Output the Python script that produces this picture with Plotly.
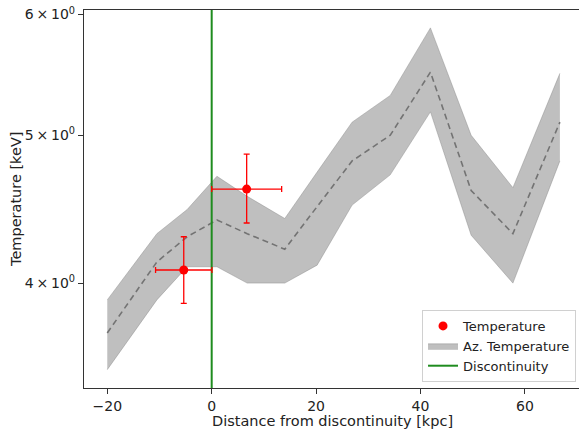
import plotly.graph_objects as go

# Azimuthal temperature profile (band + mean)
az_x = [-20.0, -10.5, -4.7, 1.0, 6.8, 14.0, 20.2, 26.9, 34.2, 41.9, 49.7, 57.7, 66.7]
az_mean = [3.71, 4.13, 4.29, 4.40, 4.31, 4.21, 4.49, 4.81, 5.00, 5.50, 4.60, 4.31, 5.10]
az_upper = [3.90, 4.31, 4.47, 4.70, 4.56, 4.41, 4.73, 5.10, 5.31, 5.88, 5.00, 4.62, 5.49]
az_lower = [3.51, 3.90, 4.10, 4.10, 4.00, 4.00, 4.11, 4.50, 4.71, 5.18, 4.30, 4.00, 4.81]

# Temperature measurements
t_x = [-5.35, 6.7]
t_xerr = [5.4, 6.7]
t_val = [4.08, 4.61]
t_err_plus = [0.21, 0.25]
t_err_minus = [0.20, 0.23]

disc_x = 0.0

y_ticks = [4, 5, 6]
y_ticktext = ["4\u2009\u00d7\u200910<sup>0</sup>", "5\u2009\u00d7\u200910<sup>0</sup>",
              "6\u2009\u00d7\u200910<sup>0</sup>"]
x_ticks = [-20, 0, 20, 40, 60]
x_ticktext = ["\u221220", "0", "20", "40", "60"]

FONT = "DejaVu Sans"
fig = go.Figure()

fig.add_trace(go.Scatter(x=az_x, y=az_lower, mode="lines",
                         line=dict(color="rgba(128,128,128,0.5)", width=0.8),
                         showlegend=False, hoverinfo="skip"))
fig.add_trace(go.Scatter(x=az_x, y=az_upper, mode="lines", fill="tonexty",
                         fillcolor="rgba(128,128,128,0.5)",
                         line=dict(color="rgba(128,128,128,0.5)", width=0.8),
                         name="Az. Temperature", legendrank=2))
fig.add_trace(go.Scatter(x=az_x, y=az_mean, mode="lines",
                         line=dict(color="rgb(115,115,115)", width=1.6, dash="6px,4px"),
                         showlegend=False))
fig.add_trace(go.Scatter(x=[disc_x, disc_x], y=[3.0, 7.0], mode="lines",
                         line=dict(color="#1f8c1f", width=2),
                         name="Discontinuity", legendrank=3))
fig.add_trace(go.Scatter(x=t_x, y=t_val, mode="markers",
                         marker=dict(color="red", size=9),
                         error_x=dict(type="data", array=t_xerr, color="red", thickness=1.3, width=3),
                         error_y=dict(type="data", array=t_err_plus, arrayminus=t_err_minus,
                                      color="red", thickness=1.3, width=3),
                         name="Temperature", legendrank=1))

fig.update_layout(
    width=579, height=432,
    margin=dict(l=84, r=0, t=10, b=44),
    paper_bgcolor="white", plot_bgcolor="white",
    font=dict(family=FONT, size=14, color="#222"),
    legend=dict(x=0.994, y=0.016, xanchor="right", yanchor="bottom",
                traceorder="normal",
                bordercolor="#d0d0d0", borderwidth=1, bgcolor="rgba(255,255,255,0.8)",
                font=dict(size=13), tracegroupgap=0),
    annotations=[
        dict(text="Distance from discontinuity [kpc]", xref="paper", yref="paper",
             x=(332 - 84) / 495, y=-(421 - 388) / 378, xanchor="center", yanchor="middle",
             showarrow=False, font=dict(size=14.5)),
        dict(text="Temperature [keV]", xref="paper", yref="paper",
             x=-(84 - 16) / 495, y=0.5, xanchor="center", yanchor="middle",
             textangle=-90, showarrow=False, font=dict(size=14.5)),
    ],
)
fig.update_xaxes(range=[-24.46, 70.36], tickvals=x_ticks, ticktext=x_ticktext,
                 showgrid=False, zeroline=False, showline=True, mirror=True,
                 linecolor="#333", linewidth=1.2, ticks="outside", ticklen=5,
                 tickcolor="#333", tickfont=dict(size=14))
fig.update_yaxes(type="log", range=[0.5333, 0.7811], tickvals=y_ticks, ticktext=y_ticktext,
                 showgrid=False, zeroline=False, showline=True, mirror=False,
                 linecolor="#333", linewidth=1.2, ticks="outside", ticklen=5,
                 tickcolor="#333", tickfont=dict(size=14))

fig.write_html("out.html", config={"displayModeBar": False},
               post_script="document.body.style.margin='0';document.body.style.overflow='hidden';")
